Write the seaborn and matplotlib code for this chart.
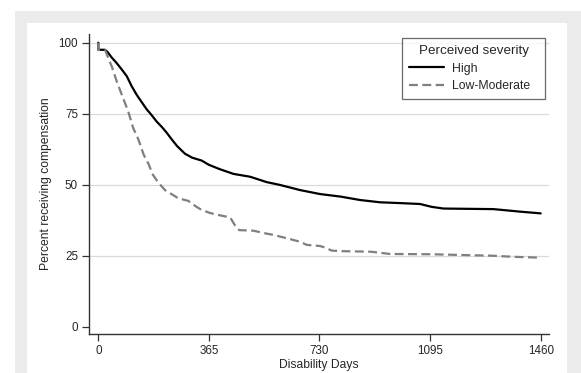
import numpy as np
import pandas as pd
import matplotlib
matplotlib.use("Agg")
import matplotlib.pyplot as plt
import seaborn as sns
from matplotlib.patches import Rectangle

# Kaplan-Meier style curves
high_days = [0, 0, 22, 30, 44, 60, 75, 94, 110, 127, 145, 160, 176, 192, 209, 225,
             242, 260, 286, 310, 341, 365, 400, 446, 501, 556, 600, 666, 732, 800,
             864, 930, 1000, 1062, 1100, 1139, 1220, 1304, 1393, 1460]
high_pct = [100, 97.5, 97.5, 96.8, 94.8, 92.9, 90.9, 88.2, 84.7, 81.6, 78.8, 76.5,
            74.5, 72.3, 70.4, 68.4, 66.0, 63.6, 60.9, 59.5, 58.5, 57.0, 55.5, 53.8,
            52.8, 50.9, 49.9, 48.1, 46.7, 45.8, 44.6, 43.8, 43.5, 43.2, 42.2, 41.6,
            41.5, 41.4, 40.5, 39.9]

low_days = [0, 0, 22, 35, 45, 61, 80, 99, 115, 132, 150, 165, 180, 200, 220, 240,
            264, 297, 320, 341, 370, 402, 435, 452, 465, 512, 545, 578, 620, 666,
            688, 732, 750, 770, 800, 900, 963, 1100, 1217, 1300, 1371, 1460]
low_pct = [100, 97.5, 97.5, 94.0, 91.5, 86.3, 81.0, 75.7, 70.0, 66.0, 60.5, 57.5,
           53.5, 50.5, 48.1, 46.8, 45.2, 44.3, 42.5, 41.1, 40.0, 39.2, 38.5, 35.5,
           34.0, 33.8, 33.0, 32.3, 31.2, 29.9, 28.8, 28.4, 27.8, 26.8, 26.6, 26.4,
           25.6, 25.5, 25.2, 25.0, 24.6, 24.3]

groups = ["High", "Low-Moderate"]
x_ticks = [0, 365, 730, 1095, 1460]
y_ticks = [0, 25, 50, 75, 100]

df = pd.concat([
    pd.DataFrame({"day": high_days, "pct": high_pct, "Perceived severity": groups[0]}),
    pd.DataFrame({"day": low_days, "pct": low_pct, "Perceived severity": groups[1]}),
], ignore_index=True)

sns.set_style("white")
plt.rcParams["font.family"] = ["Liberation Sans", "DejaVu Sans"]

fig = plt.figure(figsize=(5.81, 3.73), dpi=100)
fig.patch.set_facecolor("white")
# grey outer frame and white inner panel (Stata look)
fig.patches.append(Rectangle((15 / 581, 0), 1, (373 - 11) / 373, transform=fig.transFigure,
                             facecolor="#ebebeb", edgecolor="none", zorder=-2))
fig.patches.append(Rectangle((27 / 581, 0), (567 - 27) / 581, (373 - 23) / 373,
                             transform=fig.transFigure, facecolor="white",
                             edgecolor="none", zorder=-1))

ax = fig.add_axes([89 / 581, 38.7 / 373, 460.3 / 581, 300.3 / 373])
ax.set_facecolor("none")

for v in y_ticks[1:]:
    ax.axhline(v, color="#dadada", lw=0.9, zorder=0)

sns.lineplot(data=df, x="day", y="pct", hue="Perceived severity", style="Perceived severity",
             palette={"High": "black", "Low-Moderate": "#7f7f7f"},
             dashes={"High": "", "Low-Moderate": (4, 2)},
             estimator=None, sort=False, linewidth=1.6, ax=ax)

ax.set_xlim(-30.7, 1488.4)
ax.set_ylim(-2.68, 103.06)
ax.set_xticks(x_ticks)
ax.set_yticks(y_ticks)
ax.tick_params(axis="both", which="major", length=5, width=0.9, color="#333333",
               labelsize=8.4, pad=3, direction="out", left=True, bottom=True)
ax.set_xlabel("Disability Days", fontsize=8.7, labelpad=1)
ax.set_ylabel("Percent receiving compensation", fontsize=8.7, labelpad=4.5)

for side in ["top", "right"]:
    ax.spines[side].set_visible(False)
for side in ["left", "bottom"]:
    ax.spines[side].set_color("#333333")
    ax.spines[side].set_linewidth(1.0)

handles, labels = ax.get_legend_handles_labels()
leg = ax.legend(handles, labels, title="Perceived severity", loc="upper left",
                bbox_to_anchor=(0.6807, 0.7879, 0.3106, 0.1978), mode="expand",
                borderaxespad=0, fontsize=8.8, title_fontsize=9.6,
                handlelength=2.9, handletextpad=0.6,
                fancybox=False, frameon=True, edgecolor="#444444",
                borderpad=0.55, labelspacing=0.45)
leg.get_frame().set_linewidth(0.9)
leg._legend_box.align = "center"

fig.savefig("out.png", dpi=100, facecolor="white")
